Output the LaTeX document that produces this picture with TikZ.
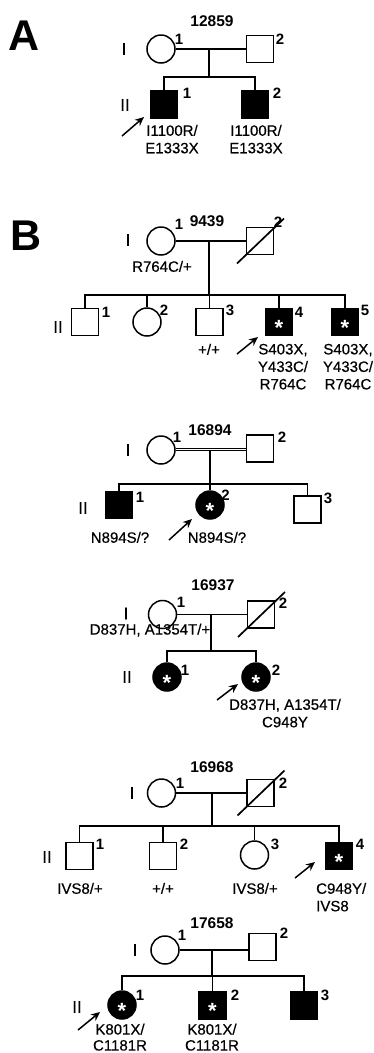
\documentclass[tikz,border=0pt]{standalone}
\usepackage{fontspec}
\setmainfont{Liberation Sans}
\newfontfamily\genofont{Liberation Sans}[FakeBold=0.4]
\usetikzlibrary{arrows.meta,calc}
\tikzset{
  sym/.style={draw, line width=1.5pt, inner sep=0pt, minimum size=27pt},
  male/.style={sym, rectangle},
  female/.style={sym, circle, minimum size=28pt},
  aff/.style={fill=black},
  ln/.style={line width=1.7pt},
  num/.style={font=\bfseries\fontsize{15}{15}\selectfont, inner sep=0pt},
  gen/.style={font=\genofont\fontsize{17}{17}\selectfont, inner sep=0pt},
  geno/.style={font=\genofont\fontsize{15}{17.5}\selectfont, inner sep=0pt, align=center, anchor=north},
  pid/.style={font=\bfseries\fontsize{15.5}{15.5}\selectfont, inner sep=0pt},
  proband/.style={line width=1.5pt, -{Stealth[length=9pt,width=8pt]}},
  panel/.style={font=\bfseries\fontsize{43}{43}\selectfont, inner sep=0pt, anchor=base west},
  ast/.style={font=\bfseries\fontsize{22}{22}\selectfont, text=white, inner sep=0pt, anchor=base},
}
\newcommand\myast[1]{\node[ast] (#1-s) at ($(#1)+(0,13)$) {*};}
\newcommand\mydead[1]{\draw[ln] ($(#1)+(-23,22.5)$) -- ($(#1)+(24,-22.5)$);}
\begin{document}
\begin{tikzpicture}[x=1pt,y=-1pt]
\useasboundingbox (0,0) rectangle (374,1053);
\fill[white] (0,0) rectangle (374,1053);

% ---------------- Panel A : 12859
\node[panel] (pA) at (8,50) {A};
\node[pid] (idA) at (212,21) {12859};
\node[gen] (gA1) at (124,49) {I};
\node[gen] (gA2) at (125,105) {II};
\node[female] (a11) at (161,49) {};
\node[male] (a12) at (260,49) {};
\node[male,aff] (a21) at (164,104.5) {};
\node[male,aff] (a22) at (255,104.5) {};
\coordinate (a-m) at (209,49);
\coordinate (a-s) at (209,77);
\draw[ln] (a11) -- (a12);
\draw[ln] (a-m) -- (a-s);
\draw[ln] (a21.north) |- (a-s) -| (a22.north);
\node[num] (a11n) at (179,39) {1};
\node[num] (a12n) at (280,39) {2};
\node[num] (a21n) at (187,93) {1};
\node[num] (a22n) at (277,93) {2};
\node[geno] (a21g) at (172,124.7) {I1100R/\\E1333X};
\node[geno] (a22g) at (256,124.7) {I1100R/\\E1333X};
\coordinate (a-ar) at (122,136);
\coordinate (a-ah) at (144,117);
\draw[proband] (a-ar) -- (a-ah);

% ---------------- Panel B : 9439
\node[panel] (pB) at (10,250) {B};
\node[pid] (idB1) at (207,221) {9439};
\node[gen] (gB1) at (128,240) {I};
\node[gen] (gB2) at (58,327) {II};
\node[female] (b11) at (161,241) {};
\node[male] (b12) at (260,241) {};
\mydead{b12}
\node[male] (b21) at (85,322) {};
\node[female] (b22) at (147,322) {};
\node[male] (b23) at (209.5,322) {};
\node[male,aff] (b24) at (279,322) {};
\node[male,aff] (b25) at (345,322) {};
\myast{b24}
\myast{b25}
\coordinate (b-m) at (209,241);
\coordinate (b-s) at (209,295);
\draw[ln] (b11) -- (b12);
\draw[ln] (b-m) -- (b-s);
\draw[ln] (b21.north) -- (b21.north|-b-s) -- (b25.north|-b-s) -- (b25.north);
\draw[ln] (b22.north) -- (b22.north|-b-s);
\draw[ln] (b23.north) -- (b23.north|-b-s);
\draw[ln] (b24.north) -- (b24.north|-b-s);
\node[num] (b11n) at (179,224) {1};
\node[num] (b12n) at (278,222) {2};
\node[num] (b21n) at (106,312) {1};
\node[num] (b22n) at (164,310) {2};
\node[num] (b23n) at (230,310) {3};
\node[num] (b24n) at (299,312) {4};
\node[num] (b25n) at (365,310) {5};
\node[geno] (b11g) at (162,260.7) {R764C/+};
\node[geno] (b23g) at (209,343.7) {+/+};
\node[geno] (b24g) at (283,343.7) {S403X,\\Y433C/\\R764C};
\node[geno] (b25g) at (348,343.7) {S403X,\\Y433C/\\R764C};
\coordinate (b-ar) at (237,354);
\coordinate (b-ah) at (258,337);
\draw[proband] (b-ar) -- (b-ah);

% ---------------- 16894
\node[pid] (idB2) at (210,430) {16894};
\node[gen] (gC1) at (128,450) {I};
\node[gen] (gC2) at (83,508) {II};
\node[female] (c11) at (161,450) {};
\node[male] (c12) at (260,448.5) {};
\coordinate (c-m) at (210,449.5);
\coordinate (c-s) at (210,484);
\draw[double, double distance=1.8pt, line width=1pt] (c11.east|-c-m) -- (c12.west|-c-m);
\draw[ln] (c-m) -- (c-s);
\node[male,aff] (c21) at (119,505) {};
\node[female,aff] (c22) at (210,505) {};
\node[male] (c23) at (307.5,509.5) {};
\myast{c22}
\draw[ln] (c21.north) -- (c21.north|-c-s) -- (c23.north|-c-s) -- (c23.north);
\draw[ln] (c22.north) -- (c22.north|-c-s);
\node[num] (c11n) at (177,437) {1};
\node[num] (c12n) at (282,437) {2};
\node[num] (c21n) at (140,497) {1};
\node[num] (c22n) at (225.5,495.5) {2};
\node[num] (c23n) at (328,498) {3};
\node[geno] (c21g) at (120,531.7) {N894S/?};
\node[geno] (c22g) at (217,531.7) {N894S/?};
\coordinate (c-ar) at (169,540);
\coordinate (c-ah) at (192,519);
\draw[proband] (c-ar) -- (c-ah);

% ---------------- 16937
\node[pid] (idB3) at (213,585) {16937};
\node[gen] (gD1) at (126,613.5) {I};
\node[gen] (gD2) at (127,677) {II};
\node[female] (d11) at (162.5,614.5) {};
\node[male] (d12) at (261,614.5) {};
\mydead{d12}
\coordinate (d-m) at (211,614.5);
\coordinate (d-s) at (211,651);
\draw[ln] (d11) -- (d12);
\draw[ln] (d-m) -- (d-s);
\node[female,aff] (d21) at (167,677) {};
\node[female,aff] (d22) at (256,677) {};
\myast{d21}
\myast{d22}
\draw[ln] (d21.north) |- (d-s) -| (d22.north);
\node[num] (d11n) at (181,602) {1};
\node[num] (d12n) at (283,603) {2};
\node[num] (d21n) at (185,670) {1};
\node[num] (d22n) at (276,670) {2};
\node[geno] (d11g) at (150,623.5) {D837H, A1354T/+};
\node[geno] (d22g) at (285,698.7) {D837H, A1354T/\\C948Y};
\coordinate (d-ar) at (217,700);
\coordinate (d-ah) at (238,684);
\draw[proband] (d-ar) -- (d-ah);

% ---------------- 16968
\node[pid] (idB4) at (212,767) {16968};
\node[gen] (gE1) at (132,793) {I};
\node[gen] (gE2) at (47,857) {II};
\node[female] (e11) at (161.5,793) {};
\node[male] (e12) at (260.5,793) {};
\mydead{e12}
\coordinate (e-m) at (212,793);
\coordinate (e-s) at (212,826);
\draw[ln] (e11) -- (e12);
\draw[ln] (e-m) -- (e-s);
\node[male] (e21) at (79.5,856) {};
\node[male] (e22) at (163,856) {};
\node[female] (e23) at (254.5,855) {};
\node[male,aff] (e24) at (339,856) {};
\myast{e24}
\draw[ln] (e21.north) -- (e21.north|-e-s) -- (e24.north|-e-s) -- (e24.north);
\draw[ln] (e22.north) -- (e22.north|-e-s);
\draw[ln] (e23.north) -- (e23.north|-e-s);
\node[num] (e11n) at (180,783) {1};
\node[num] (e12n) at (283,783) {2};
\node[num] (e21n) at (100,844) {1};
\node[num] (e22n) at (184,844) {2};
\node[num] (e23n) at (275,844) {3};
\node[num] (e24n) at (360,844) {4};
\node[geno] (e21g) at (80,882.7) {IVS8/+};
\node[geno] (e22g) at (163,882.7) {+/+};
\node[geno] (e23g) at (255,882.7) {IVS8/+};
\node[geno, anchor=north west, align=left] (e24g) at (316,882.7) {C948Y/\\IVS8};
\coordinate (e-ar) at (295,878);
\coordinate (e-ah) at (315,862);
\draw[proband] (e-ar) -- (e-ah);

% ---------------- 17658
\node[pid] (idB5) at (212,923) {17658};
\node[gen] (gF1) at (135,950) {I};
\node[gen] (gF2) at (77,1007) {II};
\node[female] (f11) at (165,950) {};
\node[male] (f12) at (262.5,947) {};
\coordinate (f-m) at (212,950);
\coordinate (f-s) at (212,976);
\draw[ln] (f11) -- (f11-|f12.west);
\draw[ln] (f-m) -- (f-s);
\node[female,aff] (f21) at (122,1005) {};
\node[male,aff] (f22) at (212.5,1005.5) {};
\node[male,aff] (f23) at (304,1005.5) {};
\myast{f21}
\myast{f22}
\draw[ln] (f21.north) -- (f21.north|-f-s) -- (f23.north|-f-s) -- (f23.north);
\draw[ln] (f22.north) -- (f22.north|-f-s);
\node[num] (f11n) at (182,935) {1};
\node[num] (f12n) at (284,933) {2};
\node[num] (f21n) at (140,995) {1};
\node[num] (f22n) at (235,995) {2};
\node[num] (f23n) at (325,995) {3};
\node[geno, font=\genofont\fontsize{15}{16}\selectfont] (f21g) at (120,1023.5) {K801X/\\C1181R};
\node[geno, font=\genofont\fontsize{15}{16}\selectfont] (f22g) at (212,1023.5) {K801X/\\C1181R};
\coordinate (f-ar) at (78,1030);
\coordinate (f-ah) at (100,1012);
\draw[proband] (f-ar) -- (f-ah);
\end{tikzpicture}
\end{document}
